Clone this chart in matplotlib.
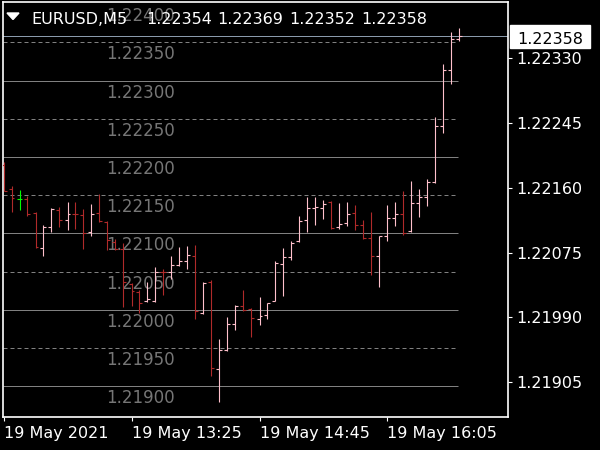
import matplotlib.pyplot as plt
from matplotlib.patches import Rectangle, Polygon

plt.rcParams['font.family'] = ['DejaVu Sans']

# EURUSD M5 bars, 19 May 2021 from 12:05
opens = [1.22190, 1.22158, 1.22145, 1.22145, 1.22127, 1.22081, 1.22109, 1.22130, 1.22117, 1.22126,
         1.22124, 1.22102, 1.22127, 1.22115, 1.22089, 1.22080, 1.22034, 1.22024, 1.22011, 1.22012,
         1.22050, 1.22049, 1.22059, 1.22064, 1.22071, 1.21996, 1.22036, 1.21923, 1.21947, 1.21982,
         1.22005, 1.22001, 1.21988, 1.21993, 1.22012, 1.22060, 1.22069, 1.22090, 1.22118, 1.22133,
         1.22133, 1.22141, 1.22108, 1.22113, 1.22127, 1.22111, 1.22094, 1.22070, 1.22097, 1.22120,
         1.22125, 1.22103, 1.22140, 1.22147, 1.22167, 1.22241, 1.22314, 1.22354]
highs = [1.22194, 1.22162, 1.22157, 1.22149, 1.22128, 1.22111, 1.22133, 1.22135, 1.22141, 1.22141,
         1.22132, 1.22139, 1.22152, 1.22116, 1.22093, 1.22087, 1.22035, 1.22026, 1.22036, 1.22056,
         1.22054, 1.22070, 1.22082, 1.22083, 1.22085, 1.22036, 1.22039, 1.21962, 1.21990, 1.22006,
         1.22026, 1.22002, 1.22017, 1.22009, 1.22064, 1.22081, 1.22090, 1.22123, 1.22148, 1.22148,
         1.22144, 1.22142, 1.22140, 1.22141, 1.22137, 1.22118, 1.22128, 1.22097, 1.22137, 1.22141,
         1.22155, 1.22169, 1.22158, 1.22171, 1.22252, 1.22321, 1.22364, 1.22369]
lows = [1.22155, 1.22128, 1.22130, 1.22123, 1.22081, 1.22070, 1.22102, 1.22109, 1.22104, 1.22106,
        1.22080, 1.22097, 1.22115, 1.22078, 1.22078, 1.22004, 1.22005, 1.21996, 1.22010, 1.22010,
        1.22019, 1.22041, 1.22057, 1.22054, 1.21988, 1.21995, 1.21913, 1.21880, 1.21946, 1.21974,
        1.21998, 1.21965, 1.21980, 1.21988, 1.22011, 1.22018, 1.22065, 1.22089, 1.22102, 1.22111,
        1.22119, 1.22106, 1.22106, 1.22110, 1.22104, 1.22093, 1.22045, 1.22030, 1.22090, 1.22110,
        1.22098, 1.22102, 1.22121, 1.22136, 1.22166, 1.22231, 1.22296, 1.22352]
closes = [1.22156, 1.22146, 1.22145, 1.22125, 1.22082, 1.22108, 1.22132, 1.22118, 1.22125, 1.22125,
          1.22100, 1.22125, 1.22116, 1.22092, 1.22079, 1.22036, 1.22025, 1.22009, 1.22014, 1.22050,
          1.22049, 1.22059, 1.22064, 1.22072, 1.21999, 1.22035, 1.21924, 1.21948, 1.21982, 1.22005,
          1.22000, 1.21989, 1.21992, 1.22009, 1.22061, 1.22069, 1.22087, 1.22116, 1.22133, 1.22134,
          1.22139, 1.22107, 1.22112, 1.22126, 1.22111, 1.22094, 1.22071, 1.22096, 1.22120, 1.22126,
          1.22101, 1.22140, 1.22147, 1.22167, 1.22241, 1.22314, 1.22354, 1.22358]

time_ticks = [0, 16, 32, 48]
time_labels = ['19 May 2021', '19 May 13:25', '19 May 14:45', '19 May 16:05']
price_ticks = [1.21905, 1.21990, 1.22075, 1.22160, 1.22245, 1.22330]
solid_levels = [1.21900, 1.22000, 1.22100, 1.22200, 1.22300]
dashed_levels = [1.21950, 1.22050, 1.22150, 1.22250, 1.22350]
level_labels = [1.21900, 1.21950, 1.22000, 1.22050, 1.22100, 1.22150,
                1.22200, 1.22250, 1.22300, 1.22350, 1.22400]
last_price = 1.22358

W, H = 600, 450
fig = plt.figure(figsize=(6, 4.5), dpi=100, facecolor='black')
ax = fig.add_axes([2.5 / W, 1 - 416.5 / H, 505.8 / W, 414.2 / H])
ax.set_facecolor('black')
# bar i sits on pixel column 3.5 + 8 * i
ax.set_xlim(-0.125, 63.1)
ax.set_ylim(1.218605, 1.224023)

px = 1 / 76444  # one pixel in price units
lw = 0.72  # one pixel

# level lines and their labels
ax.hlines(solid_levels, -0.1, 56.85, colors='#808080', lw=lw, zorder=1)
ax.hlines(dashed_levels, -0.1, 56.55, colors='#808080', lw=lw,
          linestyles=(0, (4, 3)), zorder=1)
for lv in level_labels:
    ax.text(17.09, lv - 17 * px, f'{lv:.5f}', color='#767676', fontsize=12,
            ha='center', va='baseline', zorder=1)

ax.axhline(last_price, color='#8a9aab', lw=lw, zorder=2)

# OHLC bars
x = list(range(len(opens)))
cols = []
for o, c in zip(opens, closes):
    if c > o:
        cols.append('#ffc0cb')
    elif c < o:
        cols.append('#b02a2a')
    else:
        cols.append('#00ff00')
xl = [i - 0.375 for i in x]
xr = [i + 0.375 for i in x]
ax.vlines(x, lows, highs, colors=cols, lw=0.8, zorder=3)
ax.hlines(opens, xl, x, colors=cols, lw=0.8, zorder=3)
ax.hlines(closes, x, xr, colors=cols, lw=0.8, zorder=3)

# axes
ax.yaxis.tick_right()
ax.set_yticks(price_ticks)
ax.set_yticklabels([f'{p:.5f}' for p in price_ticks])
ax.set_xticks(time_ticks)
ax.set_xticklabels(time_labels, ha='left')
ax.tick_params(colors='white', labelsize=11.5, length=3, width=0.8)
ax.tick_params(axis='y', pad=3)
ax.tick_params(axis='x', pad=4)
for s in ['left', 'right', 'bottom', 'top']:
    ax.spines[s].set_color('white')
    ax.spines[s].set_linewidth(1.2)

# current price box
fig.add_artist(Rectangle((510 / W, 1 - 47.7 / H), 79.5 / W, 22.7 / H,
                         transform=fig.transFigure, color='white'))
fig.text(550 / W, 1 - 44 / H, f'{last_price:.5f}', color='black',
         fontsize=11.5, ha='center', va='baseline')

# header
fig.add_artist(Polygon([(7 / W, 1 - 13 / H), (19 / W, 1 - 13 / H), (13 / W, 1 - 19.5 / H)],
                       closed=True, transform=fig.transFigure, color='white'))
fig.text(31 / W, 1 - 23.5 / H, 'EURUSD,M5', color='white', fontsize=11.5, va='baseline')
for xp, val in zip([146, 217, 289, 361], [opens[-1], highs[-1], lows[-1], closes[-1]]):
    fig.text(xp / W, 1 - 23.5 / H, f'{val:.5f}', color='white', fontsize=11.5, va='baseline')

fig.savefig('out.png', dpi=100, facecolor='black')
